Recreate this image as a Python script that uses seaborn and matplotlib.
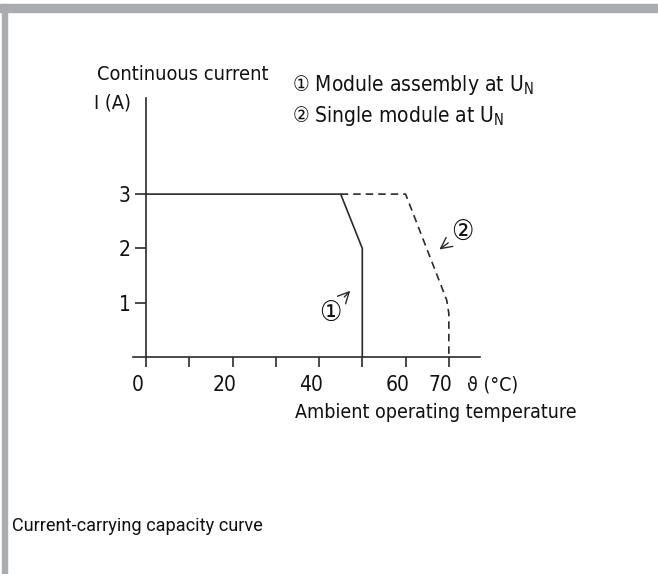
import matplotlib
matplotlib.use("Agg")
import matplotlib.pyplot as plt
import matplotlib.transforms as mtransforms
from matplotlib.patches import Rectangle
import seaborn as sns

# curve 1: module assembly at U_N (solid)
temp_assembly = [0, 45, 50, 50]
current_assembly = [3, 3, 2, 0]
# curve 2: single module at U_N (dashed)
temp_single = [45, 60, 69.5, 70, 70]
current_single = [3, 3, 1.05, 0.8, 0]

x_ticks = [0, 10, 20, 30, 40, 50, 60, 70]
x_tick_labels = ["0", "", "20", "", "40", "", "60", "70"]
y_ticks = [1, 2, 3]
y_tick_labels = ["1", "2", "3"]

sns.set_theme(style="white")
plt.rcParams["font.family"] = ["DejaVu Sans"]
plt.rcParams["font.stretch"] = "condensed"

W, H = 658, 574
fig = plt.figure(figsize=(W / 100, H / 100), dpi=100)
fig.patch.set_facecolor("white")

ink = "#2b2b2b"
txt = "#111111"
ax = fig.add_axes([133 / W, (H - 357) / H, 347 / W, 259 / H])
ax.set_facecolor("white")

sns.lineplot(x=temp_assembly, y=current_assembly, sort=False, estimator=None,
             color=ink, lw=1.2, ax=ax)
sns.lineplot(x=temp_single, y=current_single, sort=False, estimator=None,
             color=ink, lw=1.2, linestyle=(0, (4.5, 3)), ax=ax)

ax.set_xlim(-3, 77.2)
ax.set_ylim(0, 4.77)
for side in ["top", "right"]:
    ax.spines[side].set_visible(False)
ax.spines["left"].set_position(("data", 0))
for side in ["left", "bottom"]:
    ax.spines[side].set_color(ink)
    ax.spines[side].set_linewidth(1.2)

ax.set_xticks(x_ticks)
ax.set_xticklabels(x_tick_labels)
ax.set_yticks(y_ticks)
ax.set_yticklabels(y_tick_labels)
ax.tick_params(axis="x", direction="out", length=7, width=1.2, color=ink,
               labelsize=15, labelcolor=txt, pad=6, bottom=True)
ax.tick_params(axis="y", direction="out", length=8, width=1.2, color=ink,
               labelsize=15, labelcolor=txt, pad=3, left=True)
shift = mtransforms.ScaledTranslation(-8 / 100, 0, fig.dpi_scale_trans)
for lbl in ax.get_xticklabels():
    lbl.set_transform(lbl.get_transform() + shift)

# axis titles
fig.text(97 / W, 1 - 75 / H, "Continuous current", fontsize=14.3, color=txt,
         ha="left", va="center")
fig.text(94 / W, 1 - 103 / H, "I (A)", fontsize=14.3, color=txt,
         ha="left", va="center")
fig.text(467 / W, 1 - 385 / H, "ϑ (°C)", fontsize=14, color=txt,
         ha="left", va="center")
fig.text(295 / W, 1 - 413 / H, "Ambient operating temperature", fontsize=14,
         color=txt, ha="left", va="center")

# legend notes
fig.text(292 / W, 1 - 85 / H, "① Module assembly at U$_\\mathregular{N}$",
         fontsize=15, color=txt, ha="left", va="center")
fig.text(292 / W, 1 - 116 / H, "② Single module at U$_\\mathregular{N}$",
         fontsize=15, color=txt, ha="left", va="center")

# curve markers
ax.annotate("①", xy=(47.2, 1.22), xytext=(42.5, 0.82), fontsize=20,
            ha="center", va="center", color=txt,
            arrowprops=dict(arrowstyle="->", color=ink, lw=1.0,
                            shrinkA=8, shrinkB=0))
ax.annotate("②", xy=(67.8, 1.98), xytext=(73.2, 2.3), fontsize=20,
            ha="center", va="center", color=txt,
            arrowprops=dict(arrowstyle="->", color=ink, lw=1.0,
                            shrinkA=8, shrinkB=0))

# caption
fig.text(12 / W, 1 - 526 / H, "Current-carrying capacity curve",
         fontsize=13.1, color=txt, ha="left", va="center", family="Roboto",
         stretch="normal")

# page frame
frame = "#a9adb1"
fig.patches.append(Rectangle((0, 1 - 12 / H), 1, 8 / H, transform=fig.transFigure,
                             color=frame, zorder=5))
fig.patches.append(Rectangle((2 / W, 0), 5 / W, 1 - 4 / H, transform=fig.transFigure,
                             color=frame, zorder=5))

fig.savefig("out.png", dpi=100)
